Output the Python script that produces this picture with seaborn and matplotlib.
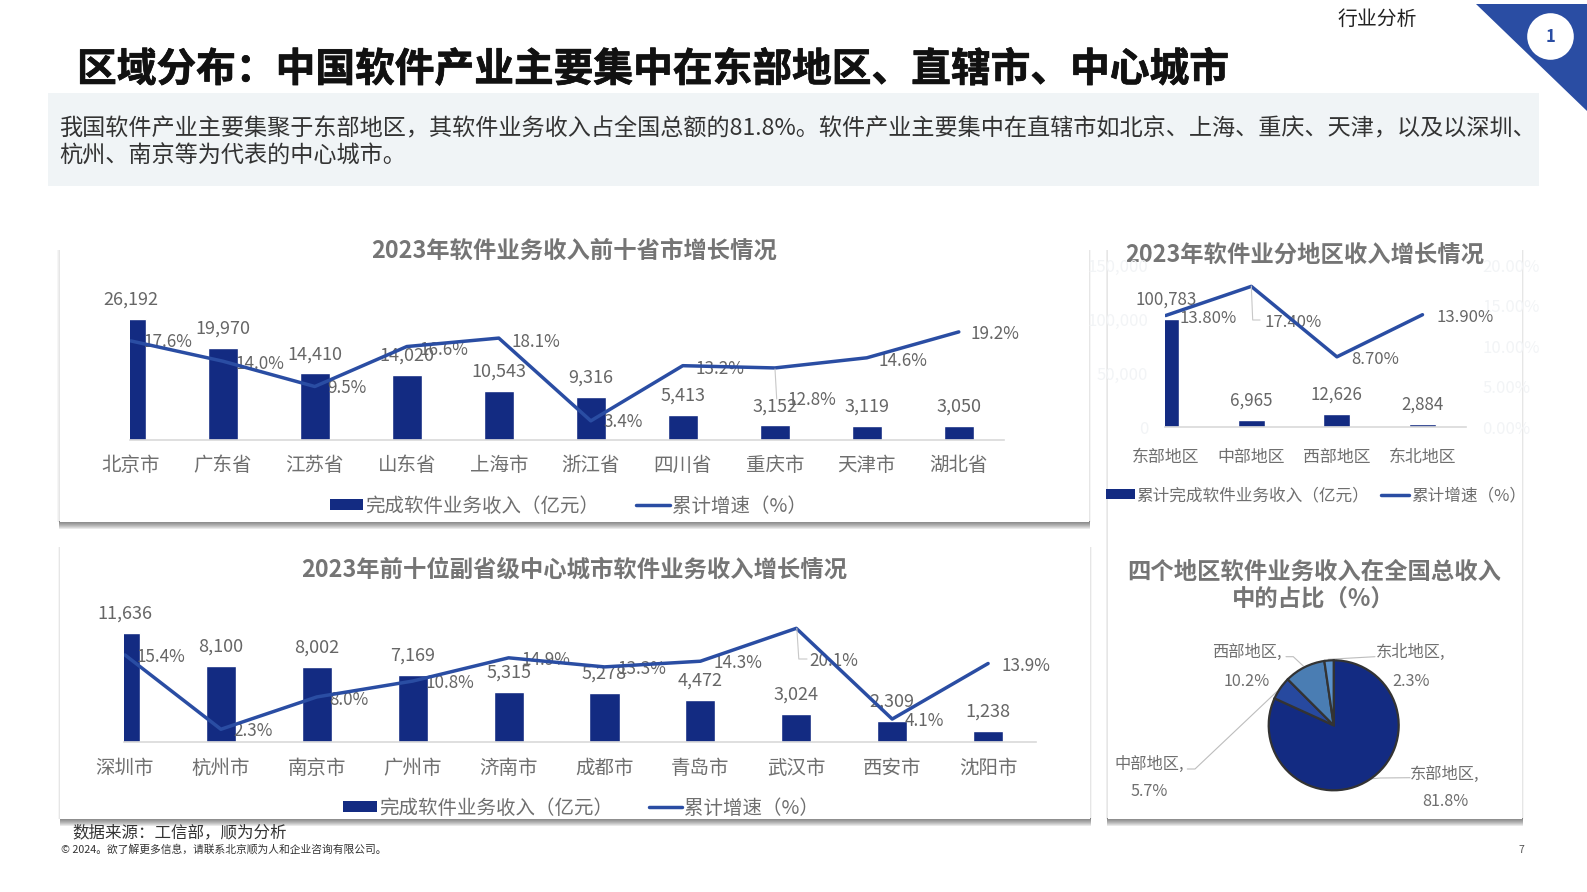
import numpy as np
import pandas as pd
import matplotlib
matplotlib.use("Agg")
import matplotlib.pyplot as plt
import matplotlib.patheffects as pe
from matplotlib.lines import Line2D
from matplotlib.patches import Patch, Rectangle, Polygon, Circle
import seaborn as sns

sns.set_theme(style="white")
plt.rcParams['font.family'] = ['Noto Sans CJK SC', 'DejaVu Sans']

W, H = 1587, 892

# 省市数据
province_names = ["北京市", "广东省", "江苏省", "山东省", "上海市", "浙江省", "四川省", "重庆市", "天津市", "湖北省"]
province_income = [26192, 19970, 14410, 14020, 10543, 9316, 5413, 3152, 3119, 3050]
province_growth = [17.6, 14.0, 9.5, 16.6, 18.1, 3.4, 13.2, 12.8, 14.6, 19.2]

# 副省级中心城市数据
city_names = ["深圳市", "杭州市", "南京市", "广州市", "济南市", "成都市", "青岛市", "武汉市", "西安市", "沈阳市"]
city_income = [11636, 8100, 8002, 7169, 5315, 5278, 4472, 3024, 2309, 1238]
city_growth = [15.4, 2.3, 8.0, 10.8, 14.9, 13.3, 14.3, 20.1, 4.1, 13.9]

# 四大地区数据
region_names = ["东部地区", "中部地区", "西部地区", "东北地区"]
region_income = [100783, 6965, 12626, 2884]
region_growth = [13.8, 17.4, 8.7, 13.9]
region_share = [81.8, 5.7, 10.2, 2.3]

NAVY = "#132b82"
BLUE = "#2a4da3"
GREY = "#6f6f6f"
LABEL = "#666666"
AXIS = "#d9d9d9"
FAINT = "#f2f4f6"

fig = plt.figure(figsize=(W / 100, H / 100), dpi=100, facecolor="white")

# 整页像素坐标底图，承载标题、面板与引线
bg = fig.add_axes([0, 0, 1, 1], zorder=0)
bg.set_xlim(0, W)
bg.set_ylim(H, 0)
bg.axis("off")
top = fig.add_axes([0, 0, 1, 1], zorder=10, facecolor="none")
top.set_xlim(0, W)
top.set_ylim(H, 0)
top.axis("off")


def card(l, t, r, b):
    """白色面板：两侧极淡的边，底部较深的阴影"""
    for k in (3, 2, 1):
        bg.add_patch(Rectangle((l - k * 0.7, t), r - l + k * 1.4, b - t,
                               fc="#707070", ec="none", alpha=0.06))
    for k in range(7, 0, -1):
        bg.add_patch(Rectangle((l - 0.5, b - 1), r - l + 1, k + 1,
                               fc="#303030", ec="none", alpha=0.10))
    bg.add_patch(Rectangle((l, t), r - l, b - t, fc="white", ec="none"))


def combo(names, income, growth, first, step, left, right, base, px_bar, px_pct,
          ytop, width, bar_dy, offsets, pct_fmt, bar_size, pct_size, tick_size, tick_pad):
    """柱线组合图：柱为收入，线为累计增速，两轴零点对齐在基线"""
    ax = fig.add_axes([left / W, 1 - base / H, (right - left) / W, (base - ytop) / H],
                      zorder=2, facecolor="none")
    frame = pd.DataFrame({"name": names, "income": income, "growth": growth})
    sns.barplot(data=frame, x="name", y="income", ax=ax, color=NAVY, saturation=1,
                width=width, errorbar=None)
    tw = ax.twinx()
    tw.set_zorder(3)
    tw.patch.set_visible(False)
    pos = np.arange(len(names))
    sns.lineplot(x=pos, y=growth, ax=tw, color=BLUE, linewidth=2.5, sort=False,
                 errorbar=None, legend=False, zorder=5)
    ax.set_xlim((left - first) / step, (right - first) / step)
    ax.set_ylim(0, (base - ytop) / px_bar)
    tw.set_ylim(0, (base - ytop) / px_pct)
    ax.set_xlabel("")
    ax.set_ylabel("")
    tw.set_ylabel("")
    tw.set_yticks([])
    ax.set_yticks([])
    for s in ["top", "left", "right"]:
        ax.spines[s].set_visible(False)
        tw.spines[s].set_visible(False)
    ax.spines["bottom"].set_color(AXIS)
    ax.spines["bottom"].set_linewidth(1.2)
    tw.spines["bottom"].set_visible(False)
    ax.tick_params(axis="x", length=0, labelsize=tick_size, labelcolor=GREY, pad=tick_pad)
    for i, v in enumerate(income):
        ax.annotate(f"{v:,}", (i, v), xytext=(0, bar_dy * 0.72), textcoords="offset points",
                    ha="center", va="center", fontsize=bar_size, color=LABEL, annotation_clip=False)
    for i, (g, (dx, dy)) in enumerate(zip(growth, offsets)):
        tw.annotate(pct_fmt.format(g), (i, g), xytext=(dx * 0.72, dy * 0.72), textcoords="offset points",
                    ha="center", va="center", fontsize=pct_size, color=LABEL, annotation_clip=False,
                    zorder=2)
    return ax, tw


def legend(ax, x, y, labels, size, spacing):
    handles = [Patch(fc=NAVY, ec="none"), Line2D([], [], color=BLUE, lw=2.5)]
    ax.legend(handles, labels, loc="center left", bbox_to_anchor=(x, y),
              bbox_transform=bg.transData, ncol=2, frameon=False, fontsize=size,
              labelcolor=GREY, borderpad=0, borderaxespad=0, handlelength=1.72,
              handleheight=0.5, handletextpad=0.1, columnspacing=spacing)


# 页眉
bg.text(77, 70, "区域分布：中国软件产业主要集中在东部地区、直辖市、中心城市",
        fontsize=28.6, fontweight="bold", color="#111111", ha="left", va="center",
        path_effects=[pe.withStroke(linewidth=0.5, foreground="#111111")])
bg.text(1377, 19.5, "行业分析", fontsize=14.3, color="#222222", ha="center", va="center")
bg.add_patch(Polygon([(1476, 4), (1587, 4), (1587, 111)], fc=BLUE, ec="none"))
bg.add_patch(Circle((1550.5, 36.5), 23.3, fc="white", ec="none"))
bg.text(1550.5, 37, "1", fontsize=12, fontweight="bold", color=BLUE, ha="center", va="center")

# 摘要
bg.add_patch(Rectangle((47.7, 92.7), 1491.5, 93, fc="#f0f4f6", ec="none"))
bg.text(59, 129, "我国软件产业主要集聚于东部地区，其软件业务收入占全国总额的81.8%。软件产业主要集中在直辖市如北京、上海、重庆、天津，以及以深圳、",
        fontsize=16.65, color="#333333", ha="left", va="center")
bg.text(59, 156, "杭州、南京等为代表的中心城市。", fontsize=16.65, color="#333333", ha="left", va="center")

# 面板底板
card(59.5, 250, 1089, 522)
card(60, 547, 1090, 819)
card(1107.7, 250, 1522, 819)

# 前十省市
ax1, tw1 = combo(province_names, province_income, province_growth,
                 first=130.8, step=92.0, left=129.8, right=1004, base=440,
                 px_bar=121 / 26192, px_pct=5.63, ytop=300, width=0.32, bar_dy=19.3,
                 offsets=[(37, -1.5), (37, -3), (32, -1.5), (37, -3.5), (37, -3.5),
                          (32, -1.5), (37, -3.5), (37, -32.5), (36.5, -3), (36, -2.5)],
                 pct_fmt="{:.1f}%", bar_size=13, pct_size=12.3, tick_size=14, tick_pad=10.5)
legend(tw1, 330, 506, ["完成软件业务收入（亿元）", "累计增速（%）"], 14, 1.9)
top.plot([775, 776.7], [369, 399], color="#c8c8c8", lw=0.8)
bg.text(574, 251, "2023年软件业务收入前十省市增长情况", fontsize=16.8, fontweight="bold",
        color="#757575", ha="center", va="center")

# 副省级中心城市
ax2, tw2 = combo(city_names, city_income, city_growth,
                 first=125, step=95.9, left=124.3, right=1036, base=742.3,
                 px_bar=109.3 / 11636, px_pct=5.67, ytop=600, width=0.313, bar_dy=19.3,
                 offsets=[(36, -2), (32, -2), (32, -3), (37, -2), (37, -2),
                          (37, -2), (37.5, -2), (37, -33), (32.6, -2), (38, -2.5)],
                 pct_fmt="{:.1f}%", bar_size=13, pct_size=12.3, tick_size=14, tick_pad=11.5)
legend(tw2, 343.4, 808, ["完成软件业务收入（亿元）", "累计增速（%）"], 14, 1.85)
top.plot([796.8, 798.8, 807], [628.3, 659, 659], color="#c8c8c8", lw=0.8)
bg.text(574, 570, "2023年前十位副省级中心城市软件业务收入增长情况", fontsize=16.8, fontweight="bold",
        color="#757575", ha="center", va="center")

# 四大地区
ax3, tw3 = combo(region_names, region_income, region_growth,
                 first=1165.7, step=85.6, left=1165, right=1465.7, base=427.3,
                 px_bar=108.6 / 100783, px_pct=8.1, ytop=260, width=0.315, bar_dy=19.5,
                 offsets=[(42, -3), (42, -36.5), (38.5, -2.5), (42.5, -3)],
                 pct_fmt="{:.2f}%", bar_size=12.2, pct_size=12, tick_size=12.2, tick_pad=15)
ax3.set_yticks([0, 50000, 100000, 150000], ["0", "50,000", "100,000", "150,000"])
ax3.tick_params(axis="y", length=0, labelsize=12, labelcolor=FAINT, pad=12, left=False, labelleft=True)
tw3.set_yticks([0, 5, 10, 15, 20], ["0.00%", "5.00%", "10.00%", "15.00%", "20.00%"])
tw3.tick_params(axis="y", length=0, labelsize=12, labelcolor=FAINT, pad=12, right=False, labelright=True)
legend(tw3, 1106, 495.5, ["累计完成软件业务收入（亿元）", "累计增速（%）"], 12, 0.7)
top.plot([1251.3, 1252.7, 1260], [286, 320, 320], color="#c8c8c8", lw=0.8)
bg.text(1305, 254.5, "2023年软件业分地区收入增长情况", fontsize=16.8, fontweight="bold",
        color="#757575", ha="center", va="center")

# 地区占比饼图
bg.text(1314, 572, "四个地区软件业务收入在全国总收入", fontsize=16.8, fontweight="bold",
        color="#757575", ha="center", va="center")
bg.text(1313, 599, "中的占比（%）", fontsize=16.8, fontweight="bold",
        color="#757575", ha="center", va="center")
pie_ax = fig.add_axes([(1333.7 - 65) / W, 1 - (725.3 + 65) / H, 130 / W, 130 / H], zorder=2)
pie_ax.pie(region_share, startangle=90, counterclock=False, radius=1,
           colors=[NAVY, "#27499f", "#4a7db3", "#5b92cc"],
           wedgeprops=dict(edgecolor="#333333", linewidth=1.6))
pie_ax.set_xlim(-1, 1)
pie_ax.set_ylim(-1, 1)
pie_places = [(1445, 774, 802), (1149, 764.3, 791.7), (1246.7, 652.7, 681), (1410.7, 652.7, 681)]
for name, share, (x, y1, y2) in zip(region_names, region_share, pie_places):
    bg.text(x, y1, name + ",", fontsize=11.7, color=GREY, ha="center", va="center")
    bg.text(x, y2, f"{share:.1f}%", fontsize=11.7, color=GREY, ha="center", va="center")
leaders = [([1369.3, 1380, 1410], [779, 778, 777.7]),
           ([1276.7, 1195, 1187.3], [691.7, 769, 769]),
           ([1303.3, 1293.3, 1286], [666, 656.7, 656.7]),
           ([1328.3, 1375], [659.3, 656.7])]
for xs, ys in leaders:
    bg.plot(xs, ys, color="#bdbdbd", lw=0.8)

# 页脚
bg.text(72.5, 833, "数据来源：工信部，顺为分析", fontsize=11.9, color="#333333", ha="left", va="center")
bg.text(61, 849.5, "© 2024。欲了解更多信息，请联系北京顺为人和企业咨询有限公司。", fontsize=7.75,
        color="#333333", ha="left", va="center")
bg.text(1521, 850, "7", fontsize=7.5, color="#555555", ha="center", va="center")

fig.savefig("out.png", dpi=100)
